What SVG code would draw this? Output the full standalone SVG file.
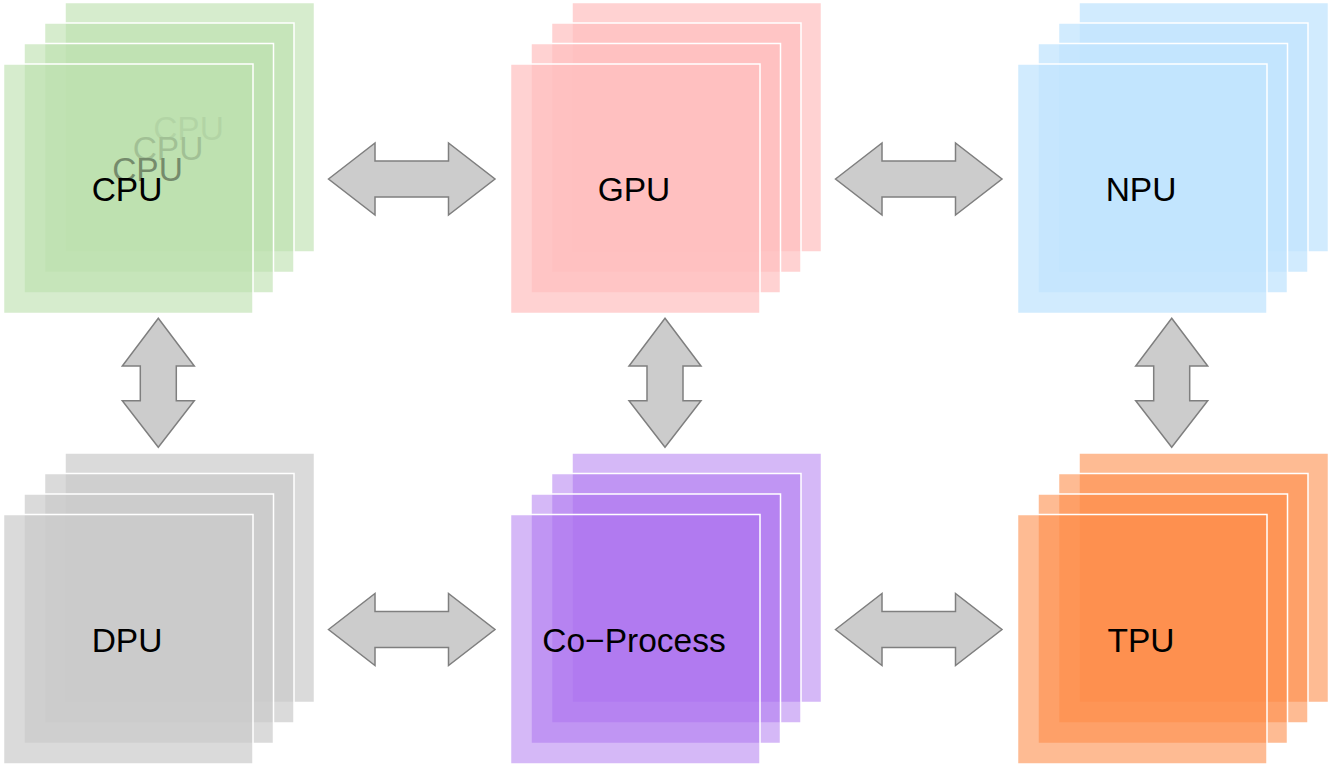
<svg xmlns="http://www.w3.org/2000/svg" width="1331" height="766" viewBox="0 0 1331 766">
<style>
rect.l{stroke:#ffffff;stroke-width:1.5}
.cpu rect{fill:#bde0ae;fill-opacity:0.62}
.gpu rect{fill:#ffbfbf;fill-opacity:0.7}
.npu rect{fill:#c2e4fd;fill-opacity:0.75}
.dpu rect{fill:#cbcbcb;fill-opacity:0.7}
.cop rect{fill:#ab71ef;fill-opacity:0.5}
.tpu rect{fill:#fe8e4b;fill-opacity:0.6}
text{font-family:"Liberation Sans",Arial,Helvetica,sans-serif;font-size:33.5px;fill:#000;text-anchor:middle}
.arr{fill:#cccccc;stroke:#7f7f7f;stroke-width:1.5;stroke-linejoin:miter}
</style>
<rect x="0" y="0" width="1331" height="766" fill="#ffffff"/>
<g id="cpu" class="cpu">
<rect class="l" x="65" y="2.5" width="249.5" height="249.5"/>
<text x="188.5" y="139.5">CPU</text>
<rect class="l" x="44.5" y="23" width="249.5" height="249.5"/>
<text x="168" y="160">CPU</text>
<rect class="l" x="24" y="43.5" width="249.5" height="249.5"/>
<text x="147.5" y="180.5">CPU</text>
<rect class="l" x="3.5" y="64" width="249.5" height="249.5"/>
<text x="127" y="201">CPU</text>
</g>
<g id="gpu" class="gpu">
<rect class="l" x="572" y="2.5" width="249.5" height="249.5"/>
<rect class="l" x="551.5" y="23" width="249.5" height="249.5"/>
<rect class="l" x="531" y="43.5" width="249.5" height="249.5"/>
<rect class="l" x="510.5" y="64" width="249.5" height="249.5"/>
<text x="634" y="201">GPU</text>
</g>
<g id="npu" class="npu">
<rect class="l" x="1079" y="2.5" width="249.5" height="249.5"/>
<rect class="l" x="1058.5" y="23" width="249.5" height="249.5"/>
<rect class="l" x="1038" y="43.5" width="249.5" height="249.5"/>
<rect class="l" x="1017.5" y="64" width="249.5" height="249.5"/>
<text x="1141" y="201">NPU</text>
</g>
<g id="dpu" class="dpu">
<rect class="l" x="65" y="453" width="249.5" height="249.5"/>
<rect class="l" x="44.5" y="473.5" width="249.5" height="249.5"/>
<rect class="l" x="24" y="494" width="249.5" height="249.5"/>
<rect class="l" x="3.5" y="514.5" width="249.5" height="249.5"/>
<text x="127" y="651.5">DPU</text>
</g>
<g id="coprocess" class="cop">
<rect class="l" x="572" y="453" width="249.5" height="249.5"/>
<rect class="l" x="551.5" y="473.5" width="249.5" height="249.5"/>
<rect class="l" x="531" y="494" width="249.5" height="249.5"/>
<rect class="l" x="510.5" y="514.5" width="249.5" height="249.5"/>
<text x="634" y="651.5">Co−Process</text>
</g>
<g id="tpu" class="tpu">
<rect class="l" x="1079" y="453" width="249.5" height="249.5"/>
<rect class="l" x="1058.5" y="473.5" width="249.5" height="249.5"/>
<rect class="l" x="1038" y="494" width="249.5" height="249.5"/>
<rect class="l" x="1017.5" y="514.5" width="249.5" height="249.5"/>
<text x="1141" y="651.5">TPU</text>
</g>
<g id="connectors">
<polygon class="arr" points="328.5,179 375,143 375,161 448.5,161 448.5,143 495,179 448.5,215 448.5,197 375,197 375,215"/>
<polygon class="arr" points="835.5,179 882,143 882,161 955.5,161 955.5,143 1002,179 955.5,215 955.5,197 882,197 882,215"/>
<polygon class="arr" points="328.5,629.5 375,593.5 375,611.5 448.5,611.5 448.5,593.5 495,629.5 448.5,665.5 448.5,647.5 375,647.5 375,665.5"/>
<polygon class="arr" points="835.5,629.5 882,593.5 882,611.5 955.5,611.5 955.5,593.5 1002,629.5 955.5,665.5 955.5,647.5 882,647.5 882,665.5"/>
<polygon class="arr" points="158.3,318.3 194.3,366 176.3,366 176.3,400.7 194.3,400.7 158.3,447.3 122.3,400.7 140.3,400.7 140.3,366 122.3,366"/>
<polygon class="arr" points="665,318.3 701,366 683,366 683,400.7 701,400.7 665,447.3 629,400.7 647,400.7 647,366 629,366"/>
<polygon class="arr" points="1171.7,318.3 1207.7,366 1189.7,366 1189.7,400.7 1207.7,400.7 1171.7,447.3 1135.7,400.7 1153.7,400.7 1153.7,366 1135.7,366"/>
</g>
</svg>
